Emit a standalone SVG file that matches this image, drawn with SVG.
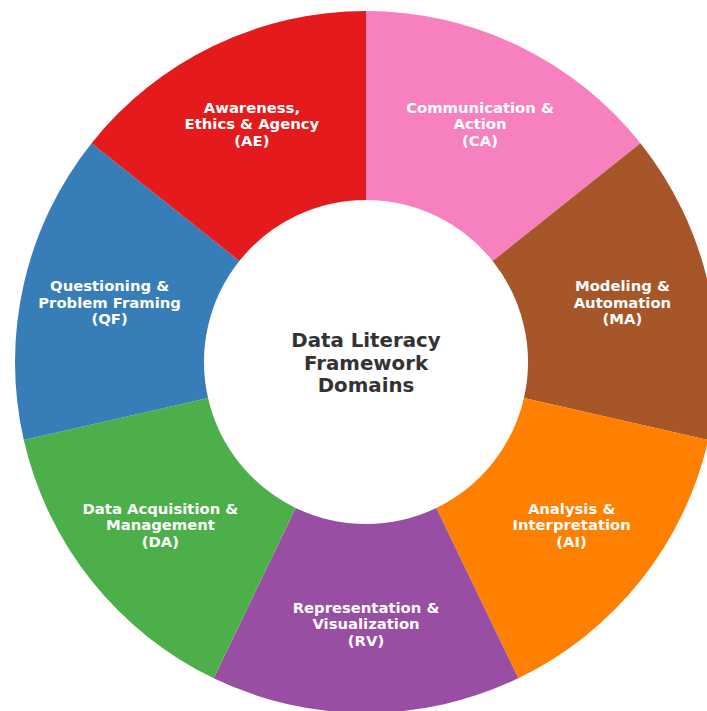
<svg xmlns="http://www.w3.org/2000/svg" width="707" height="711" viewBox="0 0 707 711">
  <style>
    .lbl { font-family: "DejaVu Sans", "Liberation Sans", sans-serif; font-weight: bold; font-size: 14.8px; fill: #ffffff; text-anchor: middle; }
    .title { font-family: "DejaVu Sans", "Liberation Sans", sans-serif; font-weight: bold; font-size: 19.8px; fill: #333333; text-anchor: middle; }
  </style>
  <rect width="707" height="711" fill="#ffffff"/>
  <!-- donut ring: centre (366,362), outer r 351, inner r 162, seven equal wedges -->
  <g id="CA">
    <path d="M366,11 A351,351 0 0 1 640.42,143.15 L492.66,260.99 A162,162 0 0 0 366,200 Z" fill="#f781bf"/>
    <text class="lbl" x="480" y="112.7">Communication &amp;<tspan x="480" dy="16.5">Action</tspan><tspan x="480" dy="16.5">(CA)</tspan></text>
  </g>
  <g id="MA">
    <path d="M640.42,143.15 A351,351 0 0 1 708.20,440.10 L523.94,398.05 A162,162 0 0 0 492.66,260.99 Z" fill="#a65628"/>
    <text class="lbl" x="622.4" y="291.2">Modeling &amp;<tspan x="622.4" dy="16.5">Automation</tspan><tspan x="622.4" dy="16.5">(MA)</tspan></text>
  </g>
  <g id="AI">
    <path d="M708.20,440.10 A351,351 0 0 1 518.29,678.24 L436.29,507.96 A162,162 0 0 0 523.94,398.05 Z" fill="#ff7f00"/>
    <text class="lbl" x="571.6" y="513.7">Analysis &amp;<tspan x="571.6" dy="16.5">Interpretation</tspan><tspan x="571.6" dy="16.5">(AI)</tspan></text>
  </g>
  <g id="RV">
    <path d="M518.29,678.24 A351,351 0 0 1 213.71,678.24 L295.71,507.96 A162,162 0 0 0 436.29,507.96 Z" fill="#984ea3"/>
    <text class="lbl" x="366" y="612.7">Representation &amp;<tspan x="366" dy="16.5">Visualization</tspan><tspan x="366" dy="16.5">(RV)</tspan></text>
  </g>
  <g id="DA">
    <path d="M213.71,678.24 A351,351 0 0 1 23.80,440.10 L208.06,398.05 A162,162 0 0 0 295.71,507.96 Z" fill="#4daf4a"/>
    <text class="lbl" x="160.4" y="513.7">Data Acquisition &amp;<tspan x="160.4" dy="16.5">Management</tspan><tspan x="160.4" dy="16.5">(DA)</tspan></text>
  </g>
  <g id="QF">
    <path d="M23.80,440.10 A351,351 0 0 1 91.58,143.15 L239.34,260.99 A162,162 0 0 0 208.06,398.05 Z" fill="#377eb8"/>
    <text class="lbl" x="109.6" y="291.2">Questioning &amp;<tspan x="109.6" dy="16.5">Problem Framing</tspan><tspan x="109.6" dy="16.5">(QF)</tspan></text>
  </g>
  <g id="AE">
    <path d="M91.58,143.15 A351,351 0 0 1 366,11 L366,200 A162,162 0 0 0 239.34,260.99 Z" fill="#e41a1c"/>
    <text class="lbl" x="251.9" y="112.7">Awareness,<tspan x="251.9" dy="16.5">Ethics &amp; Agency</tspan><tspan x="251.9" dy="16.5">(AE)</tspan></text>
  </g>
  <g id="centre">
    <text class="title" x="366" y="347">Data Literacy<tspan x="366" dy="22.5">Framework</tspan><tspan x="366" dy="22.5">Domains</tspan></text>
  </g>
</svg>
